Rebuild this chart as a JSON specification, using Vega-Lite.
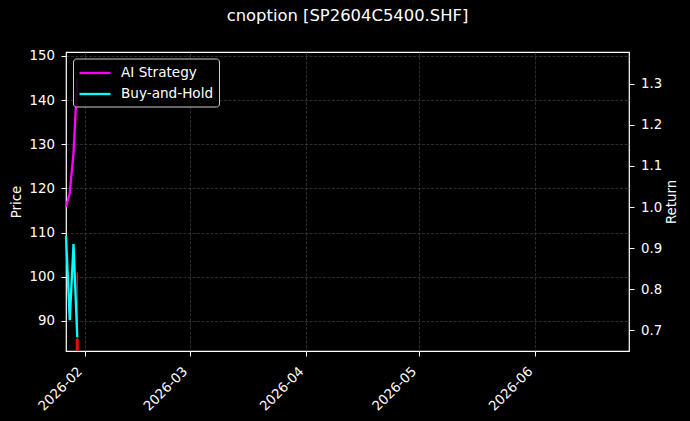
{
  "$schema": "https://vega.github.io/schema/vega-lite/v6.json",
  "width": 563,
  "height": 299,
  "autosize": {"type": "none"},
  "padding": {"left": 66, "top": 52, "right": 61, "bottom": 70},
  "background": "#000000",
  "title": {
    "text": "cnoption [SP2604C5400.SHF]",
    "color": "#ffffff",
    "font": "DejaVu Sans",
    "fontSize": 16.4,
    "fontWeight": "normal",
    "anchor": "middle",
    "baseline": "alphabetic",
    "offset": 12
  },
  "datasets": {
    "candles": [
      {"date": "2026-01-30", "open": 85.9, "close": 83.2, "high": 101.0, "low": 83.2}
    ],
    "returns": [
      {"date": "2026-01-27", "series": "AI Strategy", "value": 1.0},
      {"date": "2026-01-28", "series": "AI Strategy", "value": 1.034},
      {"date": "2026-01-29", "series": "AI Strategy", "value": 1.131},
      {"date": "2026-01-30", "series": "AI Strategy", "value": 1.311},
      {"date": "2026-01-27", "series": "Buy-and-Hold", "value": 0.93},
      {"date": "2026-01-28", "series": "Buy-and-Hold", "value": 0.725},
      {"date": "2026-01-29", "series": "Buy-and-Hold", "value": 0.91},
      {"date": "2026-01-30", "series": "Buy-and-Hold", "value": 0.684}
    ]
  },
  "encoding": {
    "x": {
      "field": "date",
      "type": "temporal",
      "scale": {
        "type": "utc",
        "padding": 0,
        "domain": [
          {"year": 2026, "month": 1, "date": 27, "utc": true},
          {"year": 2026, "month": 6, "date": 26, "utc": true}
        ]
      },
      "axis": {
        "title": null,
        "values": [
          {"year": 2026, "month": 2, "date": 1, "utc": true},
          {"year": 2026, "month": 3, "date": 1, "utc": true},
          {"year": 2026, "month": 4, "date": 1, "utc": true},
          {"year": 2026, "month": 5, "date": 1, "utc": true},
          {"year": 2026, "month": 6, "date": 1, "utc": true}
        ],
        "labelExpr": "utcFormat(datum.value, '%Y-%m')",
        "labelAngle": -45,
        "labelAlign": "right",
        "labelBaseline": "middle",
        "labelPadding": 13,
        "labelOffset": -5
      }
    }
  },
  "layer": [
    {
      "data": {"name": "candles"},
      "encoding": {
        "y": {
          "field": "high",
          "type": "quantitative",
          "scale": {"domain": [83.2, 150.9], "nice": false, "zero": false, "padding": 0},
          "axis": {
            "orient": "left",
            "title": "Price",
            "values": [90, 100, 110, 120, 130, 140, 150],
            "titlePadding": 6
          }
        }
      },
      "layer": [
        {
          "mark": {"type": "rule", "color": "#e01010", "strokeWidth": 1.6},
          "encoding": {"y2": {"field": "low"}}
        },
        {
          "mark": {"type": "bar", "color": "#e01010", "size": 3},
          "encoding": {
            "y": {"field": "open", "type": "quantitative"},
            "y2": {"field": "close"}
          }
        }
      ]
    },
    {
      "data": {"name": "returns"},
      "mark": {"type": "line", "strokeWidth": 2.3},
      "encoding": {
        "y": {
          "field": "value",
          "type": "quantitative",
          "scale": {"domain": [0.65, 1.377], "nice": false, "zero": false, "padding": 0},
          "axis": {
            "orient": "right",
            "title": "Return",
            "values": [0.7, 0.8, 0.9, 1.0, 1.1, 1.2, 1.3],
            "format": ".1f",
            "titleAngle": 270,
            "titleBaseline": "top",
            "titlePadding": 3
          }
        },
        "color": {
          "field": "series",
          "type": "nominal",
          "scale": {"domain": ["AI Strategy", "Buy-and-Hold"], "range": ["#ff00ff", "#00ffff"]},
          "legend": {
            "title": null,
            "orient": "none",
            "legendX": 7,
            "legendY": 6.5,
            "fillColor": "rgba(0,0,0,0.85)",
            "strokeColor": "#cccccc",
            "cornerRadius": 3,
            "padding": 5,
            "symbolType": "M-1,0H2.875",
            "symbolSize": 256,
            "symbolStrokeWidth": 2.3,
            "labelOffset": 24,
            "rowPadding": 4,
            "labelColor": "#ffffff",
            "labelFont": "DejaVu Sans",
            "labelFontSize": 13.6
          }
        }
      }
    }
  ],
  "resolve": {"scale": {"y": "independent"}},
  "config": {
    "view": {"stroke": "#ffffff", "strokeWidth": 1.2, "fill": "#000000"},
    "axis": {
      "domain": false,
      "grid": true,
      "gridColor": "#4a4a4a",
      "gridDash": [3, 1.5],
      "gridWidth": 0.6,
      "tickColor": "#ffffff",
      "tickSize": 5,
      "labelPadding": 6.5,
      "labelColor": "#ffffff",
      "labelFont": "DejaVu Sans",
      "labelFontSize": 13.3,
      "titleColor": "#ffffff",
      "titleFont": "DejaVu Sans",
      "titleFontSize": 13.3,
      "titleFontWeight": "normal"
    }
  }
}
